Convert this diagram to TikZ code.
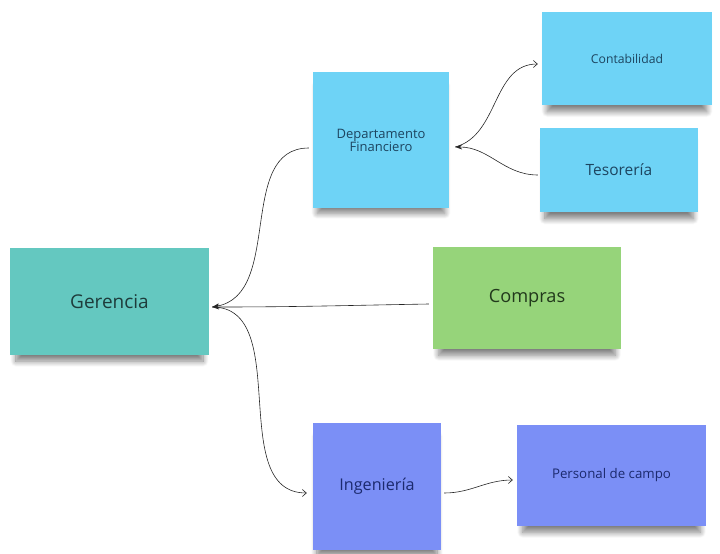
\documentclass[tikz,border=0pt]{standalone}
\usepackage{fontspec}
\setmainfont{Open Sans}
\usetikzlibrary{arrows.meta}
\usetikzlibrary{shadows.blur}

\definecolor{tealnote}{HTML}{64C8C0}
\definecolor{bluenote}{HTML}{6ED3F6}
\definecolor{greennote}{HTML}{96D47A}
\definecolor{violetnote}{HTML}{7B8FF6}
\definecolor{tealtext}{HTML}{1E3C3B}
\definecolor{bluetext}{HTML}{1D4560}
\definecolor{greentext}{HTML}{22391C}
\definecolor{violettext}{HTML}{1C2A6E}

\begin{document}
\begin{tikzpicture}[x=1pt, y=-1pt,
    note/.style={rectangle, inner sep=2pt, align=center,
      blur shadow={shadow xshift=0pt, shadow yshift=-10pt, shadow blur steps=12,
        shadow blur radius=6pt, shadow opacity=50, shadow scale=0.94}},
    link/.style={line width=0.6pt, black!85},
    open/.style={link, -{Straight Barb[length=4pt, width=7pt]}},
    solid/.style={link, -{Stealth[length=7pt, width=5pt]}}]
      \useasboundingbox (0,0) rectangle (720,554);

      \node[note, fill=tealnote, minimum width=199pt, minimum height=107pt, text=tealtext,
        font=\fontsize{19}{22}\selectfont] (ger) at (109.5,301.5) {Gerencia};
      \node[note, fill=bluenote, minimum width=136pt, minimum height=136pt, text=bluetext,
        font=\fontsize{13}{13}\selectfont] (dep) at (381,140) {Departamento\\Financiero};
      \node[note, fill=bluenote, minimum width=170pt, minimum height=93pt, text=bluetext,
        font=\fontsize{12.2}{14}\selectfont] (con) at (627,58.5) {Contabilidad};
      \node[note, fill=bluenote, minimum width=158pt, minimum height=84pt, text=bluetext,
        font=\fontsize{15.5}{18}\selectfont] (tes) at (619,170) {Tesorería};
      \node[note, fill=greennote, minimum width=188pt, minimum height=102pt, text=greentext,
        font=\fontsize{18.2}{21}\selectfont] (com) at (527,298) {Compras};
      \node[note, fill=violetnote, minimum width=128pt, minimum height=127pt, text=violettext,
        font=\fontsize{16.2}{19}\selectfont] (ing) at (377,486.5) {Ingeniería};
      \node[note, fill=violetnote, minimum width=189pt, minimum height=101pt, text=violettext,
        font=\fontsize{13.3}{16}\selectfont] (per) at (611.5,475.5) {Personal de campo};

      \coordinate (gerR) at ([xshift=3pt, yshift=-5.5pt]ger.east);
      \coordinate (depL) at ([xshift=-4pt, yshift=-8pt]dep.west);
      \coordinate (depR) at ([xshift=6pt, yshift=-7pt]dep.east);
      \coordinate (conL) at ([xshift=-4pt, yshift=-5.5pt]con.west);
      \coordinate (tesL) at ([xshift=-2pt, yshift=-5pt]tes.west);
      \coordinate (comL) at ([xshift=-4pt, yshift=-6pt]com.west);
      \coordinate (ingL) at ([xshift=-6pt, yshift=-6.5pt]ing.west);
      \coordinate (ingR) at ([xshift=3pt, yshift=-6.5pt]ing.east);
      \coordinate (perL) at ([xshift=-4pt, yshift=-4.5pt]per.west);

      \draw[solid] (depL) to[out=180, in=10] (gerR);
      \draw[solid] (comL) to[out=181, in=0] (gerR);
      \draw[open] (gerR) to[out=0, in=180] (ingL);
      \draw[open] (depR) to[out=15, in=180] (conL);
      \draw[solid] (tesL) to[out=180, in=0] (depR);
      \draw[open] (ingR) to[out=0, in=180] (perL);
    \end{tikzpicture}
\end{document}
